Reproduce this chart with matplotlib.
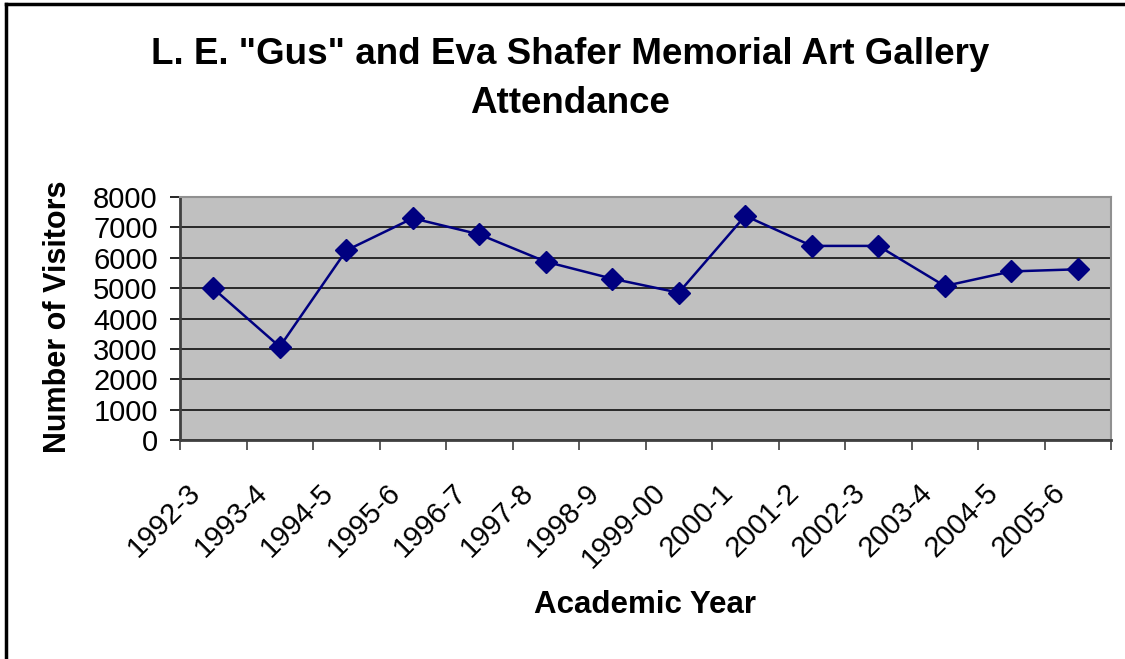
import matplotlib
matplotlib.use('Agg')
import matplotlib.pyplot as plt
from matplotlib.lines import Line2D
from matplotlib.transforms import ScaledTranslation
import numpy as np

# data
years = ['1992-3', '1993-4', '1994-5', '1995-6', '1996-7', '1997-8', '1998-9',
         '1999-00', '2000-1', '2001-2', '2002-3', '2003-4', '2004-5', '2005-6']
visitors = [4990, 3070, 6240, 7300, 6770, 5870, 5310,
            4850, 7380, 6390, 6390, 5070, 5550, 5620]
yticks = [0, 1000, 2000, 3000, 4000, 5000, 6000, 7000, 8000]

plt.rcParams['font.family'] = ['Liberation Sans', 'DejaVu Sans']

W, H = 1125, 659
fig = plt.figure(figsize=(W / 100, H / 100), dpi=100)
fig.patch.set_facecolor('white')

# plot area in pixels: x 180..1111, y 197..440
ax = fig.add_axes([180 / W, 1 - 440 / H, (1111 - 180) / W, (440 - 197) / H])
ax.set_facecolor('#c0c0c0')

x = np.arange(len(years))
ax.plot(x, visitors, color='#000080', lw=1.8, marker='D', ms=11,
        markerfacecolor='#000080', markeredgecolor='#000080', zorder=3)

ax.set_xlim(-0.5, len(years) - 0.5)
ax.set_ylim(0, 8000)
ax.set_yticks(yticks)
ax.set_yticklabels([str(v) for v in yticks], fontsize=21)
ax.yaxis.grid(True, color='black', lw=1.1)
ax.set_axisbelow(True)

ax.set_xticks(x)
ax.set_xticklabels(years, fontsize=21, rotation=45, ha='right',
                   rotation_mode='anchor', va='center')
ax.set_xticks(np.arange(len(years) + 1) - 0.5, minor=True)
ax.tick_params(axis='x', which='major', length=0, pad=35)
ax.tick_params(axis='x', which='minor', length=7, width=1.2, color='#404040')
ax.tick_params(axis='y', length=7, width=1.2, color='black', pad=9)
off = ScaledTranslation(-17 / 100, 0, fig.dpi_scale_trans)
for lab in ax.get_xticklabels():
    lab.set_transform(lab.get_transform() + off)

for side in ['top', 'right']:
    ax.spines[side].set_color('#909090')
    ax.spines[side].set_linewidth(1.5)
for side in ['left', 'bottom']:
    ax.spines[side].set_color('#404040')
    ax.spines[side].set_linewidth(2)

fig.text(570 / W, 1 - 79 / H,
         'L. E. "Gus" and Eva Shafer Memorial Art Gallery\nAttendance',
         ha='center', va='center', fontsize=26.5, fontweight='bold',
         linespacing=1.55)
fig.text(58 / W, 1 - 317 / H, 'Number of Visitors', rotation=90,
         ha='center', va='center', fontsize=22, fontweight='bold')
fig.text(645 / W, 1 - 605 / H, 'Academic Year',
         ha='center', va='center', fontsize=22.5, fontweight='bold')

# chart frame: only top and left edges are visible in the crop
fig.add_artist(Line2D([6 / W, 6 / W], [0, 1 - 4 / H], color='black', lw=2.5,
                      transform=fig.transFigure))
fig.add_artist(Line2D([6 / W, 1], [1 - 4 / H, 1 - 4 / H], color='black', lw=2.5,
                      transform=fig.transFigure))

fig.savefig('out.png', dpi=100)
